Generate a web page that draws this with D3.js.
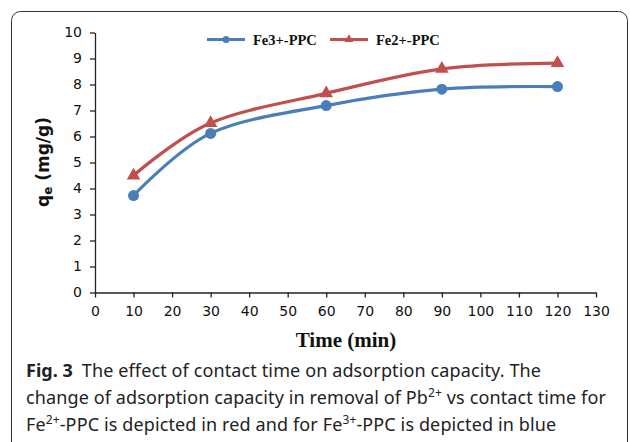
<!DOCTYPE html>
<html><head><meta charset="utf-8">
<script src="https://cdn.jsdelivr.net/npm/d3@7"></script>
<style>body{margin:0;background:#fff}svg{display:block}</style>
</head><body>
<svg id="c" width="630" height="442"></svg>
<script>
const times = [10, 30, 60, 90, 120];
const fe3 = [3.73, 6.12, 7.19, 7.82, 7.92];
const fe2 = [4.5, 6.52, 7.66, 8.6, 8.82];
const xTicks = d3.range(0, 131, 10);
const yTicks = d3.range(0, 11, 1);
const seriesNames = ["Fe3+-PPC", "Fe2+-PPC"];

const svg = d3.select("#c");
svg.append("rect").attr("x", 11.5).attr("y", 11.5).attr("width", 616).attr("height", 440)
  .attr("rx", 9).attr("fill", "none").attr("stroke", "#333").attr("stroke-width", 1);

const x = d3.scaleLinear().domain([0, 130]).range([95, 596]);
const y = d3.scaleLinear().domain([0, 10]).range([292.5, 32.5]);

const xa = svg.append("g").attr("transform", "translate(0,292.5)")
  .call(d3.axisBottom(x).tickValues(xTicks).tickSize(5).tickSizeOuter(0).tickPadding(9));
const ya = svg.append("g").attr("transform", "translate(95,0)")
  .call(d3.axisLeft(y).tickValues(yTicks).tickSize(5).tickSizeOuter(0).tickPadding(8));
[xa, ya].forEach(a => {
  a.selectAll("path,line").attr("stroke", "#222").attr("stroke-width", 1.3);
  a.selectAll("text").attr("font-family", "DejaVu Sans").attr("font-size", 14).attr("fill", "#111");
});

const line = d3.line().x(d => x(d[0])).y(d => y(d[1])).curve(d3.curveCardinal.tension(0));
const blue = "#4a7ebb", red = "#c0504d";
const d3s = times.map((t, i) => [t, fe3[i]]);
const d2s = times.map((t, i) => [t, fe2[i]]);

svg.append("path").datum(d2s).attr("d", line).attr("fill", "none").attr("stroke", red).attr("stroke-width", 3.2);
svg.append("path").datum(d3s).attr("d", line).attr("fill", "none").attr("stroke", blue).attr("stroke-width", 3.2);

const tri = d3.symbol().type(d3.symbolTriangle).size(80);
svg.selectAll(".t").data(d2s).join("path").attr("d", tri)
  .attr("transform", d => `translate(${x(d[0])},${y(d[1])})`).attr("fill", red);
svg.selectAll(".c").data(d3s).join("circle").attr("cx", d => x(d[0])).attr("cy", d => y(d[1]))
  .attr("r", 5.5).attr("fill", blue);

// legend
const lg = svg.append("g");
[[207, blue, "circle"], [330, red, "tri"]].forEach(([lx, col, m], i) => {
  lg.append("line").attr("x1", lx).attr("x2", lx + 38).attr("y1", 39.5).attr("y2", 39.5)
    .attr("stroke", col).attr("stroke-width", 3.2);
  if (m === "circle") lg.append("circle").attr("cx", lx + 19).attr("cy", 39.5).attr("r", 3.5).attr("fill", col);
  else lg.append("path").attr("d", d3.symbol().type(d3.symbolTriangle).size(35)).attr("transform", `translate(${lx + 19},39.5)`).attr("fill", col);
  lg.append("text").attr("x", lx + 46).attr("y", 44.5).text(seriesNames[i])
    .attr("font-family", "Liberation Serif").attr("font-weight", "bold").attr("font-size", 14.5).attr("fill", "#111");
});

// axis titles
svg.append("text").attr("x", 346).attr("y", 347).attr("text-anchor", "middle")
  .attr("font-family", "Liberation Serif").attr("font-weight", "bold").attr("font-size", 21).attr("fill", "#111")
  .text("Time (min)");
const yl = svg.append("text").attr("transform", "translate(49,162) rotate(-90)").attr("text-anchor", "middle")
  .attr("font-family", "DejaVu Sans").attr("font-weight", "bold").attr("font-size", 17).attr("fill", "#111");
yl.append("tspan").text("q");
yl.append("tspan").attr("font-size", 12).attr("dy", 3).text("e");
yl.append("tspan").attr("dy", -3).text(" (mg/g)");

// caption
const cap = svg.append("g").attr("font-family", "Noto Sans").attr("font-size", 18).attr("fill", "#222")
  .attr("letter-spacing", 0.12);
const l1 = cap.append("text").attr("x", 26).attr("y", 377);
l1.append("tspan").attr("font-weight", "bold").attr("letter-spacing", 0).text("Fig. 3");
l1.append("tspan").text("\u2002The effect of contact time on adsorption capacity. The");
const l2 = cap.append("text").attr("x", 26).attr("y", 404);
l2.append("tspan").text("change of adsorption capacity in removal of Pb");
l2.append("tspan").attr("font-size", 12).attr("dy", -7).text("2+");
l2.append("tspan").attr("dy", 7).text(" vs contact time for");
const l3 = cap.append("text").attr("x", 26).attr("y", 431);
l3.append("tspan").text("Fe");
l3.append("tspan").attr("font-size", 12).attr("dy", -7).text("2+");
l3.append("tspan").attr("dy", 7).text("-PPC is depicted in red and for Fe");
l3.append("tspan").attr("font-size", 12).attr("dy", -7).text("3+");
l3.append("tspan").attr("dy", 7).text("-PPC is depicted in blue");
</script>
</body></html>
